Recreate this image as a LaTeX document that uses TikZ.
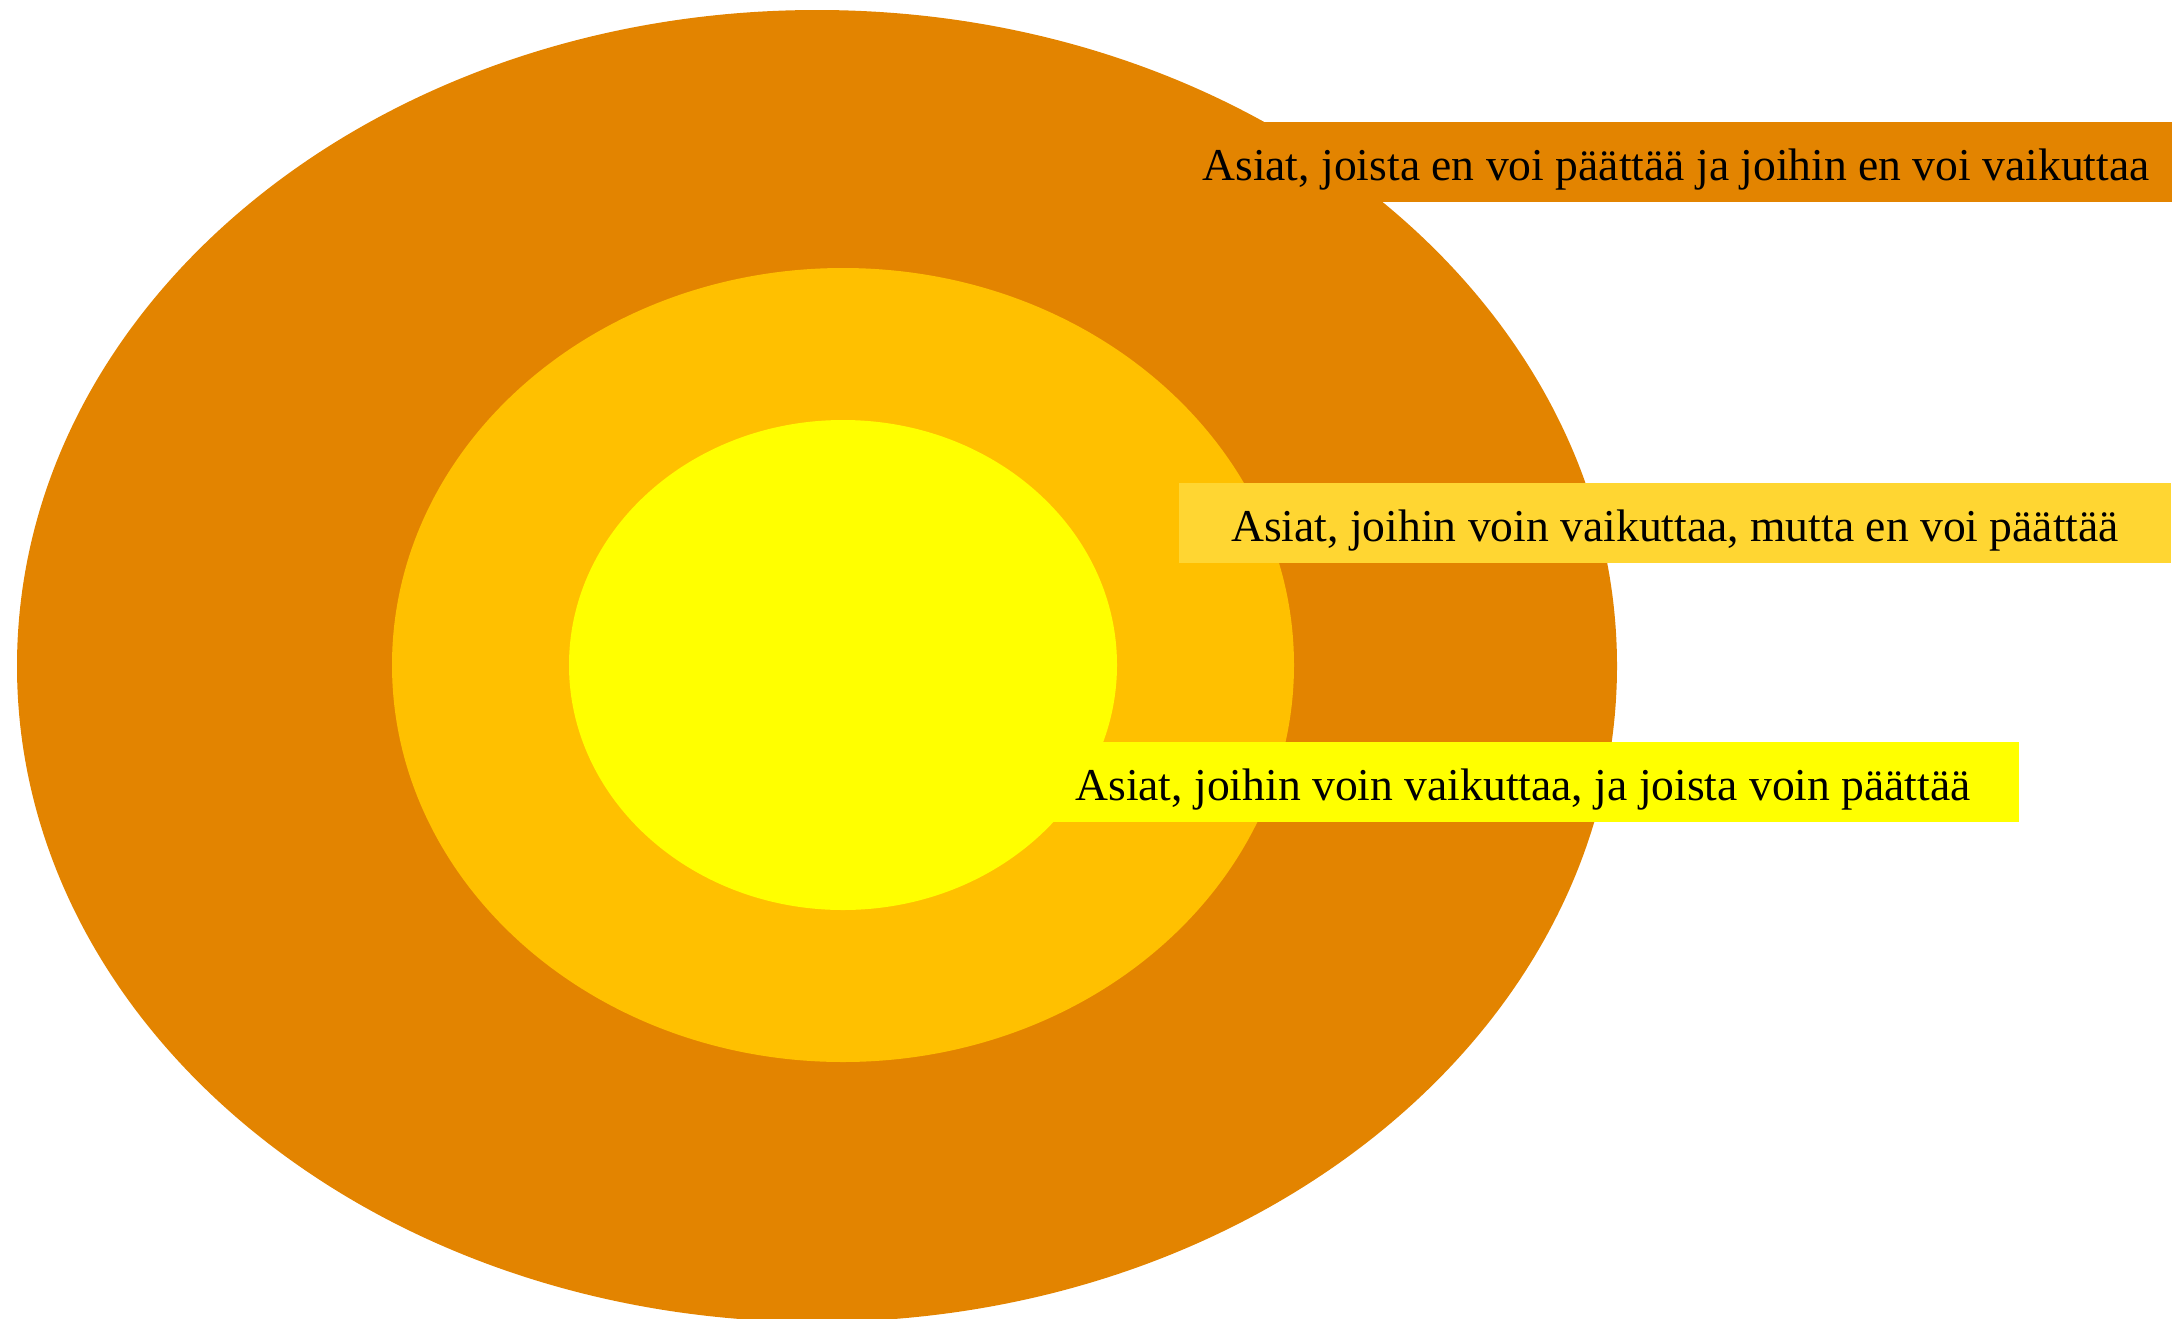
\documentclass[tikz,border=0pt]{standalone}
\usepackage{fontspec}
\setmainfont{Liberation Serif}
\usetikzlibrary{shapes.geometric}
\definecolor{outerc}{RGB}{227,132,0}
\definecolor{midc}{RGB}{255,192,0}
\definecolor{innerc}{RGB}{255,255,0}
\definecolor{boxtwo}{RGB}{255,214,50}
\tikzset{
  ring/.style={ellipse, inner sep=0pt, draw=none},
  labelbox/.style={rectangle, inner sep=0pt, minimum width=496pt, minimum height=40pt,
    text height=18.6pt, text depth=0pt,
    font=\fontsize{22.8pt}{26pt}\selectfont, text=black}
}
\begin{document}
\begin{tikzpicture}[x=0.5pt,y=-0.5pt]
\useasboundingbox (0,0) rectangle (2180,1318);
\clip (0,0) rectangle (2180,1318);
\node[ring, fill=outerc, minimum width=800pt, minimum height=656pt] (outer) at (817,666) {};
\node[ring, fill=midc, minimum width=451pt, minimum height=397pt] (middle) at (843,665) {};
\node[ring, fill=innerc, minimum width=274pt, minimum height=245pt] (inner) at (843,665) {};
\node[labelbox, fill=outerc] (l1) at (1676,162) {Asiat, joista en voi päättää ja joihin en voi vaikuttaa};
\node[labelbox, fill=boxtwo] (l2) at (1675,523) {Asiat, joihin voin vaikuttaa, mutta en voi päättää};
\node[labelbox, fill=innerc] (l3) at (1523,782) {Asiat, joihin voin vaikuttaa, ja joista voin päättää};
\end{tikzpicture}
\end{document}
